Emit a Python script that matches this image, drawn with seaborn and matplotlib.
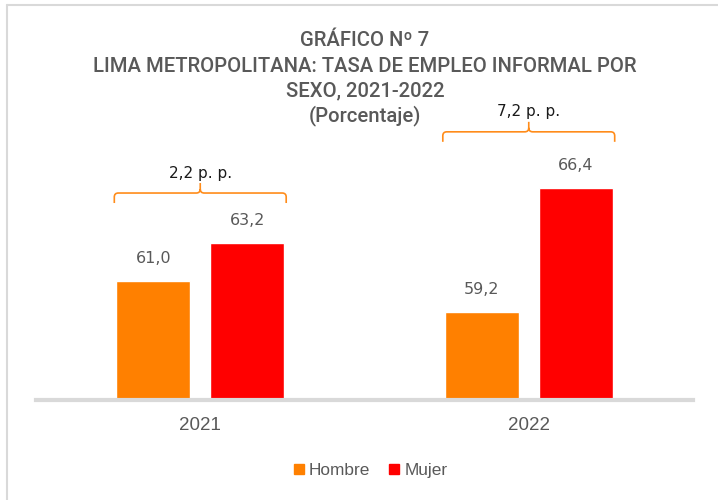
import numpy as np
import pandas as pd
import matplotlib
matplotlib.use("Agg")
import matplotlib.pyplot as plt
import seaborn as sns
from matplotlib.path import Path
from matplotlib.patches import PathPatch
from matplotlib.lines import Line2D
from matplotlib.transforms import IdentityTransform

# ---- data ----
years = ["2021", "2022"]
sexes = ["Hombre", "Mujer"]
hombre = [61.0, 59.2]
mujer = [63.2, 66.4]
gap_labels = ["2,2 p. p.", "7,2 p. p."]
title_lines = ["GRÁFICO Nº 7",
               "LIMA METROPOLITANA: TASA DE EMPLEO INFORMAL POR",
               "SEXO, 2021-2022",
               "(Porcentaje)"]

colors = ["#FF8000", "#FF0000"]
grey = "#595959"

df = pd.DataFrame({
    "Año": years * 2,
    "Sexo": [sexes[0]] * len(years) + [sexes[1]] * len(years),
    "Valor": hombre + mujer,
})

sns.set_theme(style="white")
plt.rcParams["font.family"] = ["Liberation Sans", "DejaVu Sans"]

W, H = 718, 500
fig = plt.figure(figsize=(W / 100, H / 100), dpi=100)
ax = fig.add_axes([36 / W, 100 / H, 657 / W, 300 / H])

sns.barplot(data=df, x="Año", y="Valor", hue="Sexo", order=years, hue_order=sexes,
            palette=colors, saturation=1, width=0.572, gap=0.213, legend=False, ax=ax)

ax.set_ylim(54.1, 54.1 + 300 / 17.25)
ax.set_xlim(-0.5, 1.5)
ax.set_xlabel("")
ax.set_ylabel("")
ax.set_yticks([])
for s in ["top", "left", "right"]:
    ax.spines[s].set_visible(False)
ax.spines["bottom"].set_color("#D9D9D9")
ax.spines["bottom"].set_linewidth(3)
ax.tick_params(axis="x", length=0, pad=12, labelsize=13.5, labelcolor=grey)

# value labels
for cont in ax.containers:
    for rect in cont:
        v = rect.get_height()
        ax.annotate(f"{v:.1f}".replace(".", ","),
                    (rect.get_x() + rect.get_width() / 2, v),
                    xytext=(0, 16), textcoords="offset points",
                    ha="center", va="center", fontsize=11.5, color=grey,
                    family=["DejaVu Sans"])

# braces
fig.canvas.draw()
offsets_px = [50, 56]
brace_color = "#FF8C1A"
for i, yr in enumerate(years):
    rects = [c[i] for c in ax.containers]
    xl = min(r.get_x() for r in rects)
    xr = max(r.get_x() + r.get_width() for r in rects)
    top = max(r.get_height() for r in rects)
    (pxl, ptop) = ax.transData.transform((xl, top))
    (pxr, _) = ax.transData.transform((xr, top))
    pxl -= 2
    pxr += 2
    yl = ptop + offsets_px[i]
    cx = (pxl + pxr) / 2
    r = 4
    verts = [(pxl, yl - 10), (pxl, yl - r), (pxl, yl), (pxl + r, yl),
             (cx - r, yl), (cx, yl), (cx, yl + r), (cx, yl + 10),
             (cx, yl + r), (cx, yl), (cx + r, yl),
             (pxr - r, yl), (pxr, yl), (pxr, yl - r), (pxr, yl - 10)]
    codes = [Path.MOVETO, Path.LINETO, Path.CURVE3, Path.CURVE3,
             Path.LINETO, Path.CURVE3, Path.CURVE3, Path.LINETO,
             Path.MOVETO, Path.CURVE3, Path.CURVE3,
             Path.LINETO, Path.CURVE3, Path.CURVE3, Path.LINETO]
    patch = PathPatch(Path(verts, codes), facecolor="none", edgecolor=brace_color,
                      lw=1.2, transform=IdentityTransform())
    fig.add_artist(patch)
    fig.text(cx / W, (yl + 20) / H, gap_labels[i], ha="center", va="center",
             fontsize=11, color="#1a1a1a", family=["DejaVu Sans"])

# title
title_y = [41, 66, 91, 116]
for t, y in zip(title_lines, title_y):
    fig.text(365 / W, 1 - y / H, t, ha="center", va="center", fontsize=14.6,
             color=grey, weight="medium", family=["Roboto", "DejaVu Sans"])

# legend
handles = [Line2D([], [], marker="s", ls="", markersize=7.5, color=c) for c in colors]
leg = fig.legend(handles, sexes, loc="center", bbox_to_anchor=(0.515, 1 - 470 / H),
                 ncol=2, frameon=False, handlelength=0.8, handletextpad=0.2,
                 columnspacing=1.0, fontsize=12.4)
for t in leg.get_texts():
    t.set_color(grey)

# frame lines
fig.add_artist(Line2D([7 / W, 1], [1 - 5 / H, 1 - 5 / H], color="#D9D9D9", lw=1.5,
                      transform=fig.transFigure))
fig.add_artist(Line2D([7 / W, 7 / W], [0, 1 - 5 / H], color="#D9D9D9", lw=1.5,
                      transform=fig.transFigure))

fig.savefig("out.png", dpi=100)
